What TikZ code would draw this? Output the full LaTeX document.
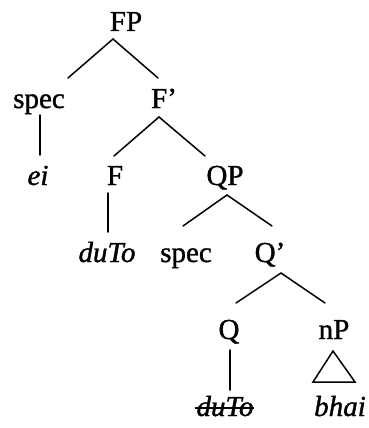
\documentclass[tikz,border=0pt]{standalone}
\usepackage{fontspec}
\setmainfont{Liberation Serif}[
  BoldFont={Liberation Serif},
  BoldItalicFont={Liberation Serif Italic},
  BoldFeatures={FakeBold=1.2},
  BoldItalicFeatures={FakeBold=1.2}]
\begin{document}
\begin{tikzpicture}[x=1pt,y=1pt,
  lbl/.style={anchor=base,inner sep=0pt,font=\fontsize{29}{34}\selectfont\bfseries},
  ilbl/.style={lbl,font=\fontsize{29}{34}\selectfont\bfseries\itshape},
  branch/.style={line width=1.5pt,line cap=round}]
\useasboundingbox (0,0) rectangle (368,-428);
% labels
\node[lbl]  (FP)    at (126,-31)  {FP};
\node[lbl]  (spec1) at (39,-108)  {spec};
\node[lbl]  (Fbar)  at (164,-108) {F’};
\node[ilbl] (ei)    at (38,-185)  {ei};
\node[lbl]  (F)     at (115,-185) {F};
\node[lbl]  (QP)    at (225,-185) {QP};
\node[ilbl] (duTo1) at (107,-262) {duTo};
\node[lbl]  (spec2) at (186,-262) {spec};
\node[lbl]  (Qbar)  at (270,-262) {Q’};
\node[lbl]  (Q)     at (229,-339) {Q};
\node[lbl]  (nP)    at (334,-339) {nP};
\node[ilbl] (duTo2) at (225,-416) {duTo};
\node[ilbl] (bhai)  at (340,-416) {bhai};
% branch points
\coordinate (FPa) at (113,-39);
\coordinate (FPl) at (68,-78);
\coordinate (FPr) at (158,-78);
\coordinate (S1a) at (40,-115);
\coordinate (S1b) at (40,-155);
\coordinate (Fba) at (159,-117);
\coordinate (Fbl) at (114,-156);
\coordinate (Fbr) at (205,-156);
\coordinate (Fa) at (108,-193);
\coordinate (Fb) at (108,-232);
\coordinate (QPa) at (227,-195);
\coordinate (QPl) at (183,-226);
\coordinate (QPr) at (272,-226);
\coordinate (Qba) at (281,-273);
\coordinate (Qbl) at (236,-303);
\coordinate (Qbr) at (325,-303);
\coordinate (Qa) at (230,-350);
\coordinate (Qb) at (230,-390);
\coordinate (Ta) at (333,-351);
\coordinate (Tl) at (313,-382);
\coordinate (Tr) at (355,-382);
\coordinate (Sl) at (195,-408);
\coordinate (Sr) at (254,-408);
% branches
\draw[branch] (FPl) -- (FPa) -- (FPr);
\draw[branch] (S1a) -- (S1b);
\draw[branch] (Fbl) -- (Fba) -- (Fbr);
\draw[branch] (Fa) -- (Fb);
\draw[branch] (QPl) -- (QPa) -- (QPr);
\draw[branch] (Qbl) -- (Qba) -- (Qbr);
\draw[branch] (Qa) -- (Qb);
\draw[branch,line join=miter] (Ta) -- (Tl) -- (Tr) -- cycle;
% strike-through
\draw[line width=1.3pt] (Sl) -- (Sr);
\end{tikzpicture}
\end{document}
